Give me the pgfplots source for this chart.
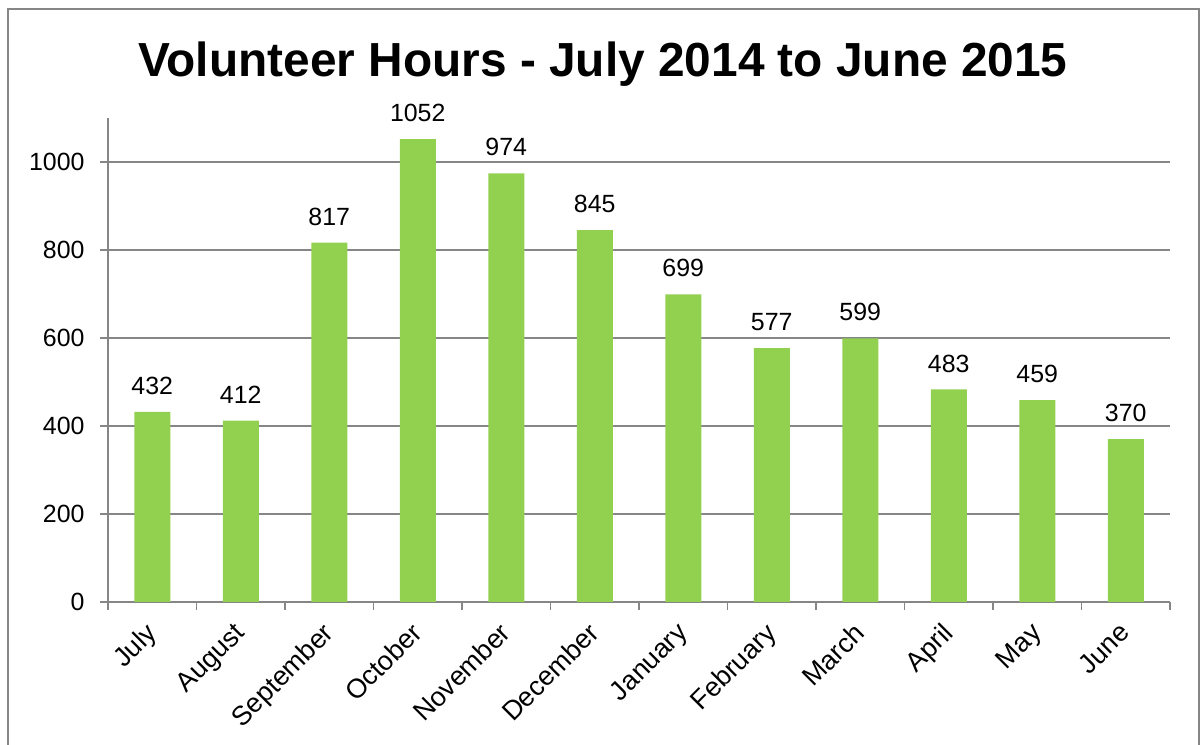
\documentclass[border=0pt]{standalone}
\usepackage{pgfplots}
\pgfplotsset{compat=1.18}
\usepackage{fontspec}
\setmainfont{Liberation Sans}
\definecolor{bargreen}{HTML}{92D050}
\definecolor{axgray}{HTML}{868686}
\begin{document}
\begin{tikzpicture}[x=1bp,y=1bp]
\useasboundingbox (0,0) rectangle (1202,745);
\draw[axgray, line width=2bp] (8,736) rectangle (1199,-20);
\node[font=\fontsize{48}{54}\selectfont\bfseries, anchor=base] at (603,668) {Volunteer Hours - July 2014 to June 2015};
\begin{axis}[
  at={(108bp,143bp)}, anchor=south west, scale only axis,
  width=1062bp, height=484bp,
  xmin=-0.5, xmax=11.5, ymin=0, ymax=1100,
  axis x line=bottom, axis y line=left,
  axis line style={axgray, line width=1.5bp, -},
  xtick={-0.5,0.5,...,11.5},
  xticklabels={{},July,August,September,October,November,December,January,February,March,April,May,June},
  ytick={0,200,400,600,800,1000},
  ymajorgrids, major grid style={axgray, line width=1.5bp},
  tick align=outside,
  tick style={axgray, line width=1.5bp},
  major tick length=8bp,
  /pgf/number format/assume math mode=true,
  /pgf/number format/set thousands separator={},
  ticklabel style={font=\fontsize{25}{30}\selectfont, text=black},
  yticklabel style={xshift=-12bp},
  xticklabel style={font=\fontsize{27}{32}\selectfont, xshift=-52bp, yshift=-11bp, rotate=45, anchor=north east, inner sep=0pt},
  ybar, bar width=36bp,
  nodes near coords,
  every node near coord/.append style={font=\fontsize{25}{30}\selectfont, text=black, inner sep=0pt, anchor=south, yshift=17bp},
]
\addplot[fill=bargreen, draw=none] coordinates {
(0,432) (1,412) (2,817) (3,1052) (4,974) (5,845) (6,699) (7,577) (8,599) (9,483) (10,459) (11,370)};
\end{axis}
\end{tikzpicture}
\end{document}
